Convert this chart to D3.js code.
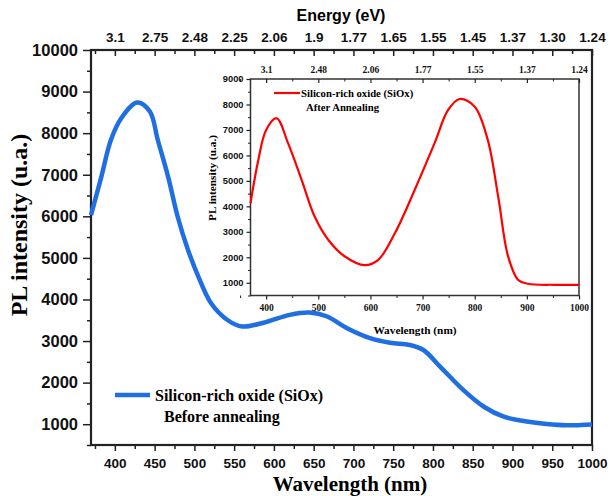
<!DOCTYPE html>
<html>
<head>
<meta charset="utf-8">
<script src="https://cdn.jsdelivr.net/npm/d3@7"></script>
<style>
  body { margin: 0; background: #fff; }
  svg { display: block; }
  .sans { font-family: "Liberation Sans", Arial, sans-serif; font-weight: bold; }
  .serif { font-family: "Liberation Serif", "Times New Roman", serif; font-weight: bold; }
</style>
</head>
<body>
<svg id="chart" width="610" height="496"></svg>
<script>
// main spectrum (before annealing): wavelength in nm, PL intensity
var beforeWl  = [370, 383, 395, 408, 428, 444, 454, 467, 479, 492, 505, 521, 542, 560, 587, 620, 645, 667, 692, 721, 746, 771, 788, 809, 838, 864, 889, 914, 943, 968, 1000];
var beforePl  = [6030, 6950, 7835, 8357, 8735, 8520, 7835, 6950, 5990, 5190, 4550, 3910, 3500, 3350, 3440, 3630, 3685, 3590, 3310, 3070, 2960, 2905, 2785, 2385, 1825, 1420, 1180, 1075, 1005, 975, 995];

// inset spectrum (after annealing)
var afterWl = [370, 385, 400, 420, 442, 468, 493, 519, 551, 589, 615, 647, 685, 723, 749, 771, 800, 825, 845, 864, 883, 902, 953, 1000];
var afterPl = [4120, 5820, 7000, 7460, 6480, 5040, 3600, 2690, 2030, 1690, 1900, 2950, 4650, 6480, 7785, 8215, 7915, 6610, 4385, 2035, 1120, 960, 920, 920];

// axis ticks
var mainYTicks = [1000, 2000, 3000, 4000, 5000, 6000, 7000, 8000, 9000, 10000];
var mainXTicks = [400, 450, 500, 550, 600, 650, 700, 750, 800, 850, 900, 950, 1000];
var energyLabels = ["3.1", "2.75", "2.48", "2.25", "2.06", "1.9", "1.77", "1.65", "1.55", "1.45", "1.37", "1.30", "1.24"];
var insetYTicks = [1000, 2000, 3000, 4000, 5000, 6000, 7000, 8000, 9000];
var insetXTicks = [400, 500, 600, 700, 800, 900, 1000];
var insetEnergyLabels = ["3.1", "2.48", "2.06", "1.77", "1.55", "1.37", "1.24"];

var svg = d3.select("#chart");

// ---------- main plot ----------
var x = d3.scaleLinear().domain([370, 1000]).range([91, 592]);
var y = d3.scaleLinear().domain([500, 10000]).range([445, 50]);

function minorBetween(arr, step) {
  var out = [];
  for (var i = 0; i < arr.length; i++) out.push(arr[i] - step);
  return out;
}

function styleAxis(g, w, fontClass, size) {
  g.select(".domain").remove();
  g.selectAll("line").attr("stroke", "#222").attr("stroke-width", w);
  g.selectAll("text").attr("class", fontClass).style("font-size", size + "px").attr("fill", "#111");
}

// minor ticks first
svg.append("g").attr("transform", "translate(91,0)")
  .call(d3.axisLeft(y).tickValues(minorBetween(mainYTicks, 500)).tickSize(4).tickFormat(""))
  .call(function(g){ styleAxis(g, 1.5, "sans", 10); });
svg.append("g").attr("transform", "translate(0,445)")
  .call(d3.axisBottom(x).tickValues(minorBetween(mainXTicks, 25)).tickSize(4).tickFormat(""))
  .call(function(g){ styleAxis(g, 1.5, "sans", 10); });
svg.append("g").attr("transform", "translate(0,50)")
  .call(d3.axisBottom(x).tickValues(minorBetween(mainXTicks, 25)).tickSize(4).tickFormat(""))
  .call(function(g){ styleAxis(g, 1.5, "sans", 10); });

// major ticks with labels
svg.append("g").attr("transform", "translate(91,0)")
  .call(d3.axisLeft(y).tickValues(mainYTicks).tickSize(8).tickPadding(5).tickFormat(d3.format("d")))
  .call(function(g){ styleAxis(g, 1.5, "sans", 16.5); });
svg.append("g").attr("transform", "translate(0,445)")
  .call(d3.axisBottom(x).tickValues(mainXTicks).tickSize(6).tickPadding(7).tickFormat(d3.format("d")))
  .call(function(g){ styleAxis(g, 1.5, "sans", 13.5); });
svg.append("g").attr("transform", "translate(0,50)")
  .call(d3.axisTop(x).tickValues(mainXTicks).tickSize(0).tickPadding(8)
    .tickFormat(function(d, i){ return energyLabels[i]; }))
  .call(function(g){ styleAxis(g, 1.5, "sans", 13.5); });
svg.append("g").attr("transform", "translate(0,50)")
  .call(d3.axisBottom(x).tickValues(mainXTicks).tickSize(6).tickFormat(""))
  .call(function(g){ styleAxis(g, 1.5, "sans", 10); });

// frame
svg.append("rect").attr("x", 91).attr("y", 50).attr("width", 501).attr("height", 395)
  .attr("fill", "none").attr("stroke", "#222").attr("stroke-width", 2.2);

// before annealing curve
var beforeData = beforeWl.map(function(d, i){ return [d, beforePl[i]]; });
var line = d3.line().x(function(d){ return x(d[0]); }).y(function(d){ return y(d[1]); })
  .curve(d3.curveCatmullRom.alpha(0.5));
svg.append("path").datum(beforeData).attr("d", line)
  .attr("fill", "none").attr("stroke", "#1f6fe3").attr("stroke-width", 4.5)
  .attr("stroke-linejoin", "round");

// titles
svg.append("text").attr("class", "sans").attr("x", 341).attr("y", 21)
  .attr("text-anchor", "middle").style("font-size", "16px").text("Energy (eV)");
svg.append("text").attr("class", "serif").attr("x", 350).attr("y", 491)
  .attr("text-anchor", "middle").style("font-size", "21px").text("Wavelength (nm)");
svg.append("text").attr("class", "serif")
  .attr("transform", "translate(27,225) rotate(-90)")
  .attr("text-anchor", "middle").style("font-size", "24px").text("PL intensity (u.a.)");

// main legend
svg.append("line").attr("x1", 115).attr("x2", 150).attr("y1", 395).attr("y2", 395)
  .attr("stroke", "#1f6fe3").attr("stroke-width", 4.5);
svg.append("text").attr("class", "serif").attr("x", 155).attr("y", 401)
  .style("font-size", "16px").text("Silicon-rich oxide (SiOx)");
svg.append("text").attr("class", "serif").attr("x", 164).attr("y", 422)
  .style("font-size", "16px").text("Before annealing");

// ---------- inset ----------
var xi = d3.scaleLinear().domain([370, 1000]).range([250.5, 579]);
var yi = d3.scaleLinear().domain([500, 9000]).range([295.5, 79]);

svg.append("rect").attr("x", 250.5).attr("y", 79).attr("width", 328.5).attr("height", 216.5)
  .attr("fill", "#fff").attr("stroke", "#333").attr("stroke-width", 1.5);

svg.append("g").attr("transform", "translate(250.5,0)")
  .call(d3.axisLeft(yi).tickValues(minorBetween(insetYTicks, 500)).tickSize(2.5).tickFormat(""))
  .call(function(g){ styleAxis(g, 1, "sans", 9); });
svg.append("g").attr("transform", "translate(0,295.5)")
  .call(d3.axisBottom(xi).tickValues(minorBetween(insetXTicks, 50)).tickSize(2.5).tickFormat(""))
  .call(function(g){ styleAxis(g, 1, "sans", 9); });
svg.append("g").attr("transform", "translate(0,79)")
  .call(d3.axisBottom(xi).tickValues(minorBetween(insetXTicks, 50)).tickSize(2.5).tickFormat(""))
  .call(function(g){ styleAxis(g, 1, "sans", 9); });

svg.append("g").attr("transform", "translate(250.5,0)")
  .call(d3.axisLeft(yi).tickValues(insetYTicks).tickSize(4).tickPadding(3).tickFormat(d3.format("d")))
  .call(function(g){ styleAxis(g, 1.2, "sans", 9.3); });
svg.append("g").attr("transform", "translate(0,295.5)")
  .call(d3.axisBottom(xi).tickValues(insetXTicks).tickSize(4).tickPadding(5).tickFormat(d3.format("d")))
  .call(function(g){ styleAxis(g, 1.2, "serif", 9.5); });
svg.append("g").attr("transform", "translate(0,79)")
  .call(d3.axisTop(xi).tickValues(insetXTicks).tickSize(0).tickPadding(6)
    .tickFormat(function(d, i){ return insetEnergyLabels[i]; }))
  .call(function(g){ styleAxis(g, 1.2, "serif", 9.5); });
svg.append("g").attr("transform", "translate(0,79)")
  .call(d3.axisBottom(xi).tickValues(insetXTicks).tickSize(4).tickFormat(""))
  .call(function(g){ styleAxis(g, 1.2, "sans", 9); });

var afterData = afterWl.map(function(d, i){ return [d, afterPl[i]]; });
var lineI = d3.line().x(function(d){ return xi(d[0]); }).y(function(d){ return yi(d[1]); })
  .curve(d3.curveCatmullRom.alpha(0.5));
svg.append("path").datum(afterData).attr("d", lineI)
  .attr("fill", "none").attr("stroke", "#ff0000").attr("stroke-width", 2.2);

svg.append("text").attr("class", "serif").attr("x", 415).attr("y", 334)
  .attr("text-anchor", "middle").style("font-size", "11.3px").text("Wavelength (nm)");
svg.append("text").attr("class", "serif")
  .attr("transform", "translate(216,178) rotate(-90)")
  .attr("text-anchor", "middle").style("font-size", "11.3px").text("PL intensity (u.a.)");

svg.append("line").attr("x1", 274).attr("x2", 300).attr("y1", 93).attr("y2", 93)
  .attr("stroke", "#ff0000").attr("stroke-width", 2.2);
svg.append("text").attr("class", "serif").attr("x", 301).attr("y", 97)
  .style("font-size", "10.7px").text("Silicon-rich oxide (SiOx)");
svg.append("text").attr("class", "serif").attr("x", 306).attr("y", 111)
  .style("font-size", "10.7px").text("After Annealing");
</script>
</body>
</html>
